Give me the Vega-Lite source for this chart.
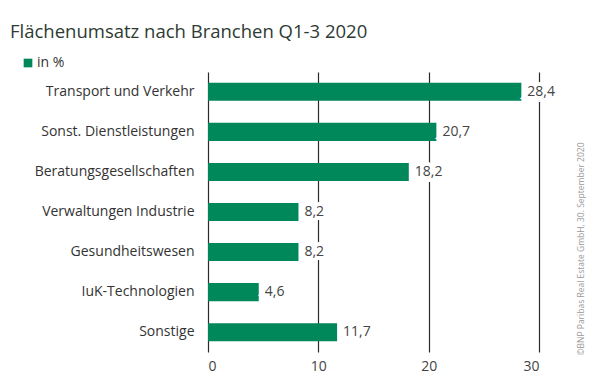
{
  "$schema": "https://vega.github.io/schema/vega-lite/v6.json",
  "width": 331,
  "height": 280,
  "autosize": {"type": "none"},
  "padding": {"left": 208, "top": 72, "right": 61, "bottom": 32},
  "background": "white",
  "config": {
    "locale": {"number": {"decimal": ",", "thousands": ".", "grouping": [3], "currency": ["", " €"]}},
    "view": {"stroke": null},
    "font": "Open Sans"
  },
  "title": {
    "text": "Flächenumsatz nach Branchen Q1-3 2020",
    "anchor": "start",
    "frame": "group",
    "dx": -198,
    "offset": 15,
    "fontSize": 18.5,
    "fontWeight": 500,
    "color": "#2d3b33",
    "font": "Open Sans"
  },
  "data": {
    "values": [
      {"branche": "Transport und Verkehr", "wert": 28.4, "serie": "in %"},
      {"branche": "Sonst. Dienstleistungen", "wert": 20.7, "serie": "in %"},
      {"branche": "Beratungsgesellschaften", "wert": 18.2, "serie": "in %"},
      {"branche": "Verwaltungen Industrie", "wert": 8.2, "serie": "in %"},
      {"branche": "Gesundheitswesen", "wert": 8.2, "serie": "in %"},
      {"branche": "IuK-Technologien", "wert": 4.6, "serie": "in %"},
      {"branche": "Sonstige", "wert": 11.7, "serie": "in %"}
    ]
  },
  "encoding": {
    "y": {
      "field": "branche",
      "type": "nominal",
      "sort": null,
      "scale": {"paddingInner": 0.55, "paddingOuter": 0.27}
    },
    "x": {
      "field": "wert",
      "type": "quantitative",
      "scale": {"domain": [0, 30], "nice": false},
      "axis": {
        "values": [0, 10, 20, 30],
        "title": null,
        "domain": false,
        "ticks": false,
        "zindex": 0,
        "labelPadding": 7,
        "labelFontSize": 14,
        "labelColor": "#444444",
        "grid": true,
        "gridColor": "#2a2a2a",
        "gridWidth": 1.2,
        "gridOpacity": 1
      }
    }
  },
  "layer": [
    {
      "mark": {"type": "bar", "color": "#00875a"},
      "encoding": {
        "fill": {
          "field": "serie",
          "type": "nominal",
          "scale": {"range": ["#00875a"]},
          "legend": {
            "title": null,
            "orient": "none",
            "legendX": -187,
            "legendY": -16,
            "symbolType": "square",
            "symbolSize": 75,
            "symbolStrokeWidth": 0,
            "labelFontSize": 14,
            "labelColor": "#333333",
            "labelOffset": 2
          }
        },
        "y": {
          "field": "branche",
          "type": "nominal",
          "sort": null,
          "axis": {
            "title": null,
            "domain": false,
            "ticks": false,
            "zindex": 0,
            "labelPadding": 14,
            "labelFontSize": 14,
            "labelColor": "#333333",
            "labelLimit": 220
          }
        }
      }
    },
    {
      "mark": {"type": "text", "align": "left", "dx": 6, "fontSize": 14},
      "encoding": {
        "text": {"field": "wert", "type": "quantitative", "format": ".1f"},
        "fill": {"value": "#ffffff"},
        "stroke": {"value": "#ffffff"},
        "strokeWidth": {"value": 8},
        "y": {
          "field": "branche",
          "type": "nominal",
          "sort": null,
          "axis": {
            "orient": "right",
            "labels": false,
            "ticks": false,
            "domain": false,
            "zindex": 0,
            "title": "©BNP Paribas Real Estate GmbH, 30. September 2020",
            "titleAngle": 270,
            "titleAlign": "left",
            "titleBaseline": "middle",
            "titleX": 41,
            "titleY": 283,
            "titleFontSize": 8.5,
            "titleFontWeight": "normal",
            "titleColor": "#999999"
          }
        }
      }
    },
    {
      "mark": {"type": "text", "align": "left", "dx": 6, "fontSize": 14, "color": "#444444"},
      "encoding": {
        "text": {"field": "wert", "type": "quantitative", "format": ".1f"},
        "y": {"field": "branche", "type": "nominal", "sort": null, "axis": null}
      }
    }
  ],
  "resolve": {"axis": {"y": "independent"}}
}
